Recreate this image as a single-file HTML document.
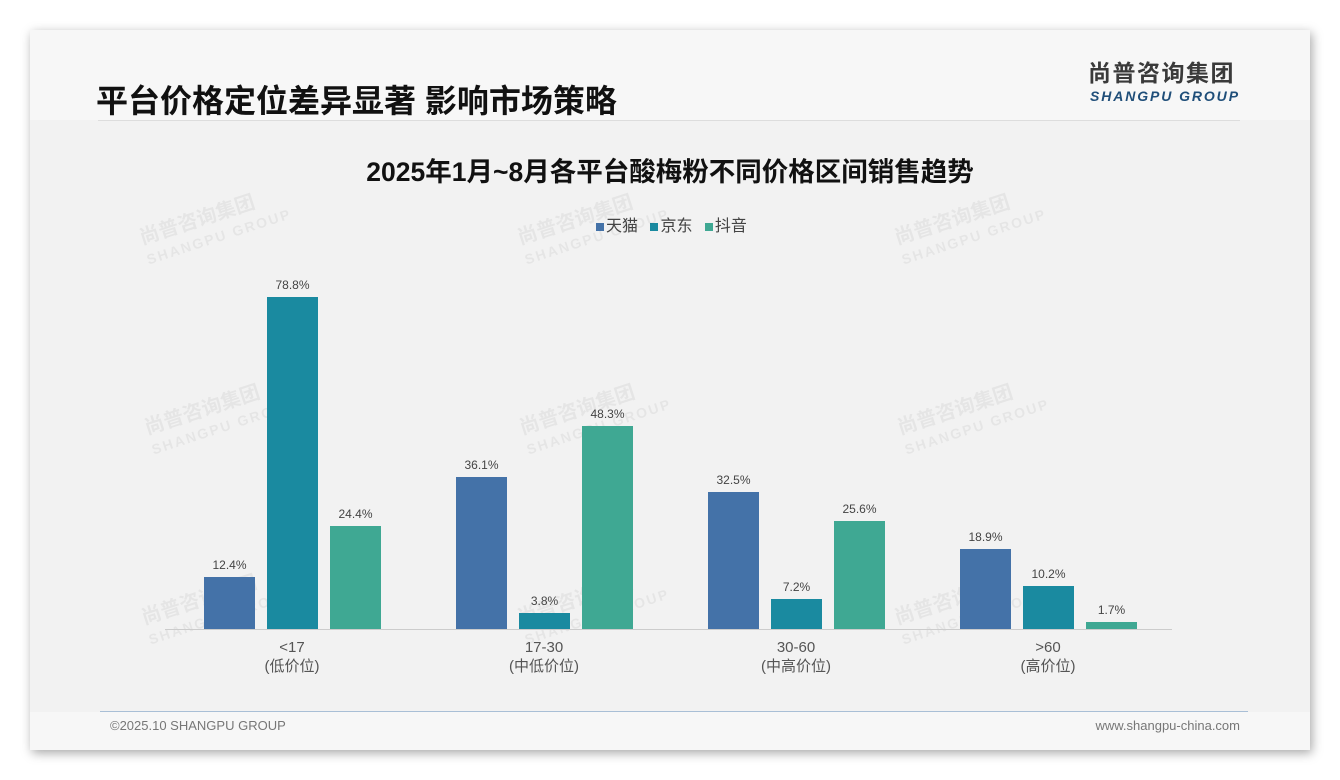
<!DOCTYPE html>
<html><head><meta charset="utf-8"><style>
body{margin:0;width:1340px;height:780px;background:#fff;font-family:"Liberation Sans","Noto Sans CJK SC",sans-serif;overflow:hidden}
.card{position:absolute;left:30px;top:30px;width:1280px;height:720px;background:#f7f7f7;box-shadow:2px 3px 10px rgba(0,0,0,.35)}
.plot{position:absolute;left:30px;top:120px;width:1280px;height:592px;background:#f2f2f2}
.t{position:absolute;white-space:nowrap}
.wm{position:absolute;color:rgba(0,0,0,0.05);font-weight:bold;transform:rotate(-18deg);line-height:1.05}
.lg{display:inline-block;width:8px;height:8px;margin:0 2px 0 8px}
</style></head><body>
<div class="card"></div>
<div class="plot"></div>
<div class="t" style="left:96px;top:76px;font-size:32px;font-weight:bold;color:#111">平台价格定位差异显著 影响市场策略</div>
<div style="position:absolute;left:98px;top:120px;width:1142px;height:1px;background:#ddd"></div>
<div class="t" style="left:1088px;top:58px;font-size:23px;font-weight:bold;color:#3a3a3a;letter-spacing:1.5px;line-height:30px">尚普咨询集团</div>
<div class="t" style="left:1090px;top:88px;font-size:14px;font-weight:bold;font-style:italic;color:#1f4e79;letter-spacing:1.9px">SHANGPU GROUP</div>
<div class="t" style="left:0;width:1340px;text-align:center;top:150px;font-size:26.5px;font-weight:bold;color:#111">2025年1月~8月各平台酸梅粉不同价格区间销售趋势</div>
<div class="t" style="left:588px;top:212px;font-size:16px;color:#444"><span class="lg" style="background:#4472a8"></span>天猫 <span class="lg" style="background:#1a8aa0"></span>京东 <span class="lg" style="background:#3fa893"></span>抖音</div>
<div class="wm" style="left:140px;top:205px;font-size:20px">尚普咨询集团<br><span style="font-size:14px;letter-spacing:2px">SHANGPU GROUP</span></div>
<div class="wm" style="left:518px;top:205px;font-size:20px">尚普咨询集团<br><span style="font-size:14px;letter-spacing:2px">SHANGPU GROUP</span></div>
<div class="wm" style="left:895px;top:205px;font-size:20px">尚普咨询集团<br><span style="font-size:14px;letter-spacing:2px">SHANGPU GROUP</span></div>
<div class="wm" style="left:145px;top:395px;font-size:20px">尚普咨询集团<br><span style="font-size:14px;letter-spacing:2px">SHANGPU GROUP</span></div>
<div class="wm" style="left:520px;top:395px;font-size:20px">尚普咨询集团<br><span style="font-size:14px;letter-spacing:2px">SHANGPU GROUP</span></div>
<div class="wm" style="left:898px;top:395px;font-size:20px">尚普咨询集团<br><span style="font-size:14px;letter-spacing:2px">SHANGPU GROUP</span></div>
<div class="wm" style="left:142px;top:585px;font-size:20px">尚普咨询集团<br><span style="font-size:14px;letter-spacing:2px">SHANGPU GROUP</span></div>
<div class="wm" style="left:518px;top:585px;font-size:20px">尚普咨询集团<br><span style="font-size:14px;letter-spacing:2px">SHANGPU GROUP</span></div>
<div class="wm" style="left:895px;top:585px;font-size:20px">尚普咨询集团<br><span style="font-size:14px;letter-spacing:2px">SHANGPU GROUP</span></div>
<svg width="1340" height="780" style="position:absolute;left:0;top:0" font-family="Liberation Sans,Noto Sans CJK SC,sans-serif">
<line x1="165" y1="629.5" x2="1172" y2="629.5" stroke="#ccc"/>
<g font-size="12" fill="#444" text-anchor="middle">
<rect x="204" y="577" width="51" height="52" fill="#4472a8"/><text x="229.5" y="569">12.4%</text>
<rect x="267" y="297" width="51" height="332" fill="#1a8aa0"/><text x="292.5" y="289">78.8%</text>
<rect x="330" y="526" width="51" height="103" fill="#3fa893"/><text x="355.5" y="518">24.4%</text>
<rect x="456" y="477" width="51" height="152" fill="#4472a8"/><text x="481.5" y="469">36.1%</text>
<rect x="519" y="613" width="51" height="16" fill="#1a8aa0"/><text x="544.5" y="605">3.8%</text>
<rect x="582" y="426" width="51" height="203" fill="#3fa893"/><text x="607.5" y="418">48.3%</text>
<rect x="708" y="492" width="51" height="137" fill="#4472a8"/><text x="733.5" y="484">32.5%</text>
<rect x="771" y="599" width="51" height="30" fill="#1a8aa0"/><text x="796.5" y="591">7.2%</text>
<rect x="834" y="521" width="51" height="108" fill="#3fa893"/><text x="859.5" y="513">25.6%</text>
<rect x="960" y="549" width="51" height="80" fill="#4472a8"/><text x="985.5" y="541">18.9%</text>
<rect x="1023" y="586" width="51" height="43" fill="#1a8aa0"/><text x="1048.5" y="578">10.2%</text>
<rect x="1086" y="622" width="51" height="7" fill="#3fa893"/><text x="1111.5" y="614">1.7%</text>
</g>
<g font-size="15" fill="#555" text-anchor="middle">
<text x="292" y="652">&lt;17</text><text x="292" y="671">(低价位)</text>
<text x="544" y="652">17-30</text><text x="544" y="671">(中低价位)</text>
<text x="796" y="652">30-60</text><text x="796" y="671">(中高价位)</text>
<text x="1048" y="652">&gt;60</text><text x="1048" y="671">(高价位)</text>
</g>
<line x1="100" y1="711.5" x2="1248" y2="711.5" stroke="#a9bfd6"/>
<text x="110" y="730" font-size="13" fill="#777">©2025.10 SHANGPU GROUP</text>
<text x="1240" y="730" font-size="13" fill="#777" text-anchor="end">www.shangpu-china.com</text>
</svg>
</body></html>
